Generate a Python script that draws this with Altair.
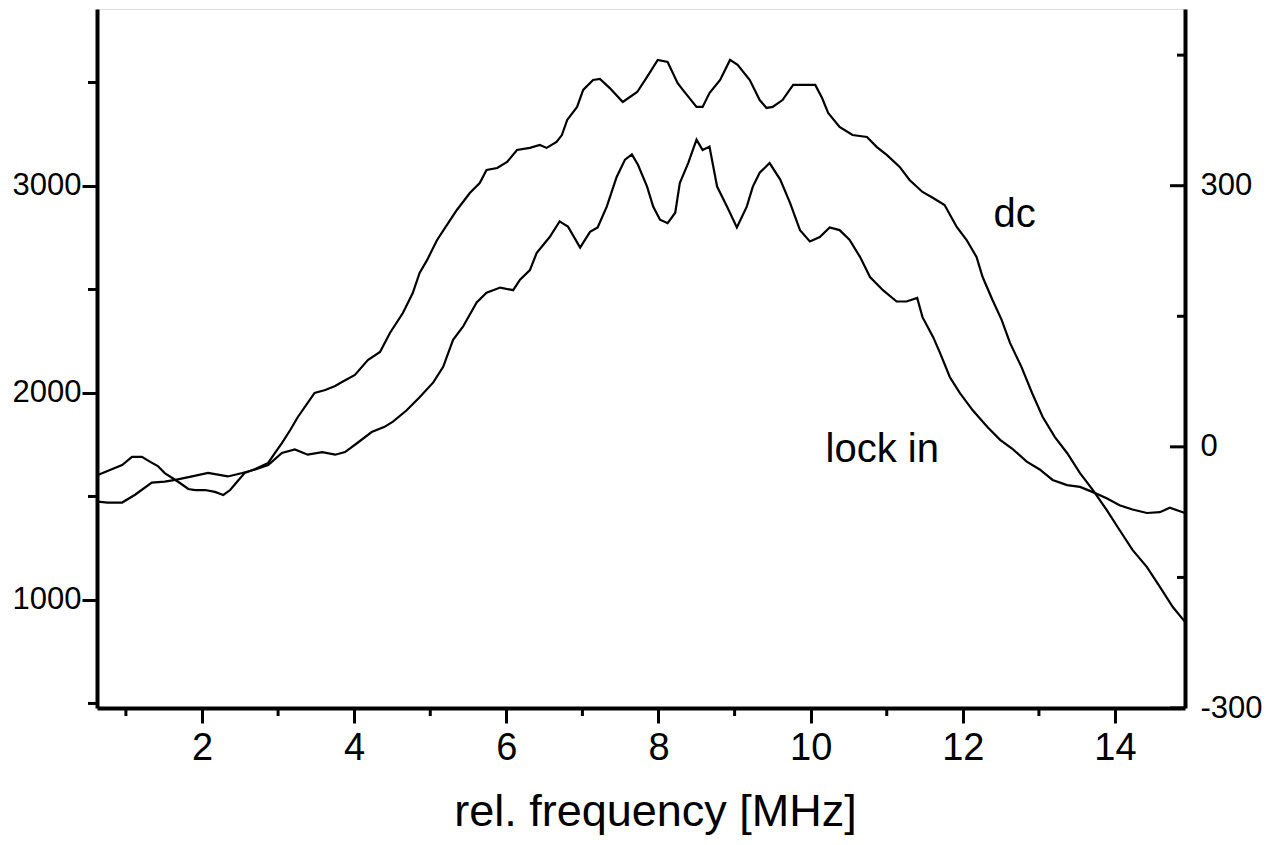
import altair as alt
import pandas as pd

# ---- data ----
dc_x = [0.63, 0.79, 0.95, 1.08, 1.21, 1.32, 1.42, 1.51, 1.61, 1.71,
        1.82, 1.91, 2.04, 2.17, 2.28, 2.37, 2.47, 2.56, 2.70, 2.87,
        2.96, 3.05, 3.16, 3.26, 3.38, 3.48, 3.62, 3.75, 3.84, 4.01,
        4.18, 4.34, 4.47, 4.64, 4.77, 4.86, 4.96, 5.09, 5.22, 5.35,
        5.52, 5.65, 5.74, 5.88, 6.01, 6.14, 6.31, 6.44, 6.53, 6.66,
        6.73, 6.80, 6.93, 7.01, 7.14, 7.23, 7.36, 7.53, 7.72, 7.85,
        7.99, 8.12, 8.25, 8.32, 8.50, 8.58, 8.67, 8.81, 8.94, 9.04,
        9.20, 9.33, 9.42, 9.50, 9.63, 9.77, 9.90, 10.06, 10.15, 10.23,
        10.38, 10.55, 10.74, 10.87, 11.00, 11.17, 11.30, 11.47, 11.61, 11.76,
        11.92, 12.05, 12.18, 12.26, 12.39, 12.51, 12.62, 12.77, 12.91, 13.05,
        13.21, 13.37, 13.54, 13.71, 13.89, 14.06, 14.23, 14.42, 14.59, 14.76,
        14.92]
dc_y = [1604, 1628, 1652, 1691, 1691, 1667, 1647, 1613, 1589, 1565,
        1536, 1531, 1531, 1522, 1507, 1531, 1575, 1613, 1633, 1662,
        1710, 1758, 1821, 1884, 1947, 2000, 2014, 2034, 2053, 2087,
        2159, 2198, 2290, 2386, 2483, 2580, 2643, 2739, 2812, 2884,
        2966, 3014, 3077, 3087, 3116, 3174, 3184, 3198, 3184, 3213,
        3246, 3319, 3382, 3464, 3512, 3517, 3473, 3406, 3454, 3527,
        3609, 3599, 3498, 3464, 3382, 3382, 3449, 3512, 3609, 3585,
        3512, 3415, 3377, 3382, 3415, 3488, 3488, 3488, 3425, 3353,
        3285, 3246, 3237, 3188, 3150, 3092, 3029, 2971, 2942, 2908,
        2802, 2739, 2657, 2560, 2449, 2353, 2242, 2126, 2000, 1884,
        1787, 1710, 1613, 1531, 1435, 1338, 1242, 1159, 1063, 966,
        894]

li_x = [0.63, 0.76, 0.95, 1.12, 1.34, 1.51, 1.65, 1.87, 2.08, 2.34,
        2.53, 2.70, 2.87, 3.05, 3.22, 3.39, 3.58, 3.75, 3.88, 4.05,
        4.23, 4.40, 4.51, 4.69, 4.86, 5.04, 5.17, 5.30, 5.43, 5.61,
        5.74, 5.92, 6.09, 6.18, 6.31, 6.40, 6.57, 6.70, 6.81, 6.97,
        7.10, 7.20, 7.32, 7.45, 7.56, 7.65, 7.73, 7.85, 7.93, 8.02,
        8.12, 8.22, 8.28, 8.39, 8.50, 8.58, 8.67, 8.77, 8.90, 9.03,
        9.16, 9.24, 9.33, 9.46, 9.60, 9.73, 9.86, 9.99, 10.12, 10.25,
        10.38, 10.51, 10.65, 10.78, 10.95, 11.13, 11.26, 11.40, 11.47, 11.61,
        11.70, 11.83, 11.96, 12.13, 12.32, 12.49, 12.66, 12.84, 13.01, 13.18,
        13.37, 13.54, 13.71, 13.89, 14.06, 14.23, 14.42, 14.59, 14.72, 14.92]
li_y = [-63, -64, -64, -55, -41, -40, -38, -34, -30, -34,
        -30, -26, -21, -7, -3, -9, -6, -9, -6, 5,
        17, 23, 29, 42, 57, 74, 92, 123, 138, 166,
        177, 183, 180, 192, 203, 223, 241, 259, 253, 229,
        247, 252, 276, 310, 330, 336, 324, 299, 276, 261,
        257, 269, 303, 326, 353, 341, 345, 299, 276, 252,
        276, 299, 315, 326, 307, 280, 249, 236, 241, 252,
        249, 238, 218, 195, 180, 167, 167, 171, 149, 126,
        108, 80, 62, 42, 23, 8, -3, -17, -26, -38,
        -44, -46, -52, -59, -67, -72, -76, -75, -70, -76]

x_major = [2, 4, 6, 8, 10, 12, 14]
x_minor = [1, 3, 5, 7, 9, 11, 13]
left_major = [1000, 2000, 3000]
left_minor = [500, 1500, 2500, 3500]
right_major = [-300, 0, 300]
right_minor = [-150, 150, 450]

labels_text = ["dc", "lock in"]
labels_f = [12.68, 10.94]
labels_v = [2860, 1725]

# ---- layout ----
W, H = 1088, 699
FONT = "Liberation Sans"

x_scale = alt.Scale(domain=[0.62, 14.92], nice=False, zero=False)
yl_scale = alt.Scale(domain=[478, 3855], nice=False, zero=False)
yr_scale = alt.Scale(domain=[-300, 503], nice=False, zero=False)

x_axis = alt.Axis(
    values=x_major, format="d",
    tickSize=15, tickWidth=3, domainWidth=4, grid=False,
    labelFont=FONT, labelFontSize=38, labelPadding=6, labelColor="black",
    labelFlush=False,
    title="rel. frequency [MHz]", titleFont=FONT, titleFontSize=45,
    titleFontWeight="normal", titleColor="black", titlePadding=22,
    titleX=W / 2 + 14,
    domainColor="black", tickColor="black",
)
yl_axis = alt.Axis(
    values=left_major, format="d",
    tickSize=15, tickWidth=3, domainWidth=4, grid=False,
    labelFont=FONT, labelFontSize=31, labelPadding=1, labelColor="black",
    labelFlush=False, title=None,
    domainColor="black", tickColor="black",
)
yr_axis = alt.Axis(
    values=right_major, orient="right",
    labelExpr="'' + datum.value",
    ticks=False, domainWidth=4, grid=False,
    labelFont=FONT, labelFontSize=31, labelPadding=15, labelColor="black",
    labelFlush=False, title=None, domainColor="black",
)

dc_df = pd.DataFrame({"f": dc_x, "v": dc_y})
li_df = pd.DataFrame({"f": li_x, "v": li_y})
lab_df = pd.DataFrame({"f": labels_f, "v": labels_v, "t": labels_text})

dc_line = alt.Chart(dc_df).mark_line(color="black", strokeWidth=2.2).encode(
    x=alt.X("f:Q", scale=x_scale, axis=x_axis),
    y=alt.Y("v:Q", scale=yl_scale, axis=yl_axis),
)
texts = alt.Chart(lab_df).mark_text(font=FONT, fontSize=40, color="black").encode(
    x=alt.X("f:Q"), y=alt.Y("v:Q"), text="t:N"
)
# minor ticks of the left axis (outward) and of the x axis (downward)
l_minor = alt.Chart(pd.DataFrame({"v": left_minor})).mark_rule(color="black", strokeWidth=3).encode(
    y=alt.Y("v:Q"), x=alt.value(-9), x2=alt.value(0)
)
x_min = alt.Chart(pd.DataFrame({"f": x_minor})).mark_rule(color="black", strokeWidth=3).encode(
    x=alt.X("f:Q"), y=alt.value(H), y2=alt.value(H + 8)
)
left = alt.layer(dc_line, texts, l_minor, x_min)

li_line = alt.Chart(li_df).mark_line(color="black", strokeWidth=2.2).encode(
    x=alt.X("f:Q", scale=x_scale),
    y=alt.Y("v:Q", scale=yr_scale, axis=yr_axis),
)
maj = alt.Chart(pd.DataFrame({"v": right_major})).mark_rule(color="black", strokeWidth=3).encode(
    y=alt.Y("v:Q"), x=alt.value(W - 15), x2=alt.value(W)
)
mnr = alt.Chart(pd.DataFrame({"v": right_minor})).mark_rule(color="black", strokeWidth=3).encode(
    y=alt.Y("v:Q"), x=alt.value(W - 8), x2=alt.value(W)
)
right = alt.layer(li_line, maj, mnr)

chart = alt.layer(left, right).resolve_scale(y="independent").properties(
    width=W, height=H,
    autosize=alt.AutoSizeParams(type="none"),
    padding={"left": 97, "top": 9, "right": 84, "bottom": 137},
).configure_view(stroke=None).configure(background="white")

chart.save("out.html", embed_options={"renderer": "svg", "actions": False})
